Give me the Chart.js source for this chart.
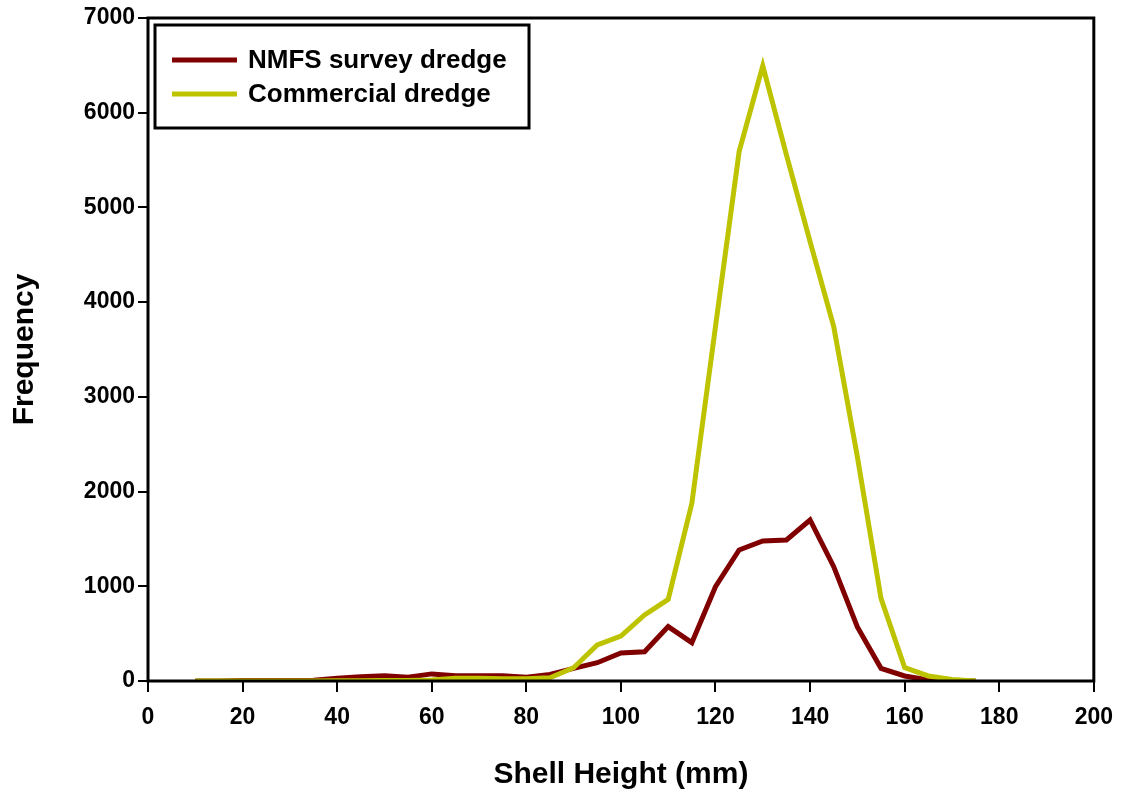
<!DOCTYPE html>
<html>
<head>
<meta charset="utf-8">
<script src="https://cdn.jsdelivr.net/npm/chart.js@4.4.1/dist/chart.umd.min.js"></script>
<style>
  html, body { margin: 0; padding: 0; background: #fff; }
  #wrap { width: 1125px; height: 797px; }
</style>
</head>
<body>
<div id="wrap"><canvas id="grafica"></canvas></div>
<script>
// -------------------------
// Datos
// -------------------------
const shellHeight = [10, 15, 20, 25, 30, 35, 40, 45, 50, 55, 60, 65, 70, 75, 80, 85, 90,
                     95, 100, 105, 110, 115, 120, 125, 130, 135, 140, 145, 150, 155, 160, 165, 170, 175];
const nmfsSurvey = [0, 0, 5, 5, 5, 8, 28, 46, 56, 39, 75, 55, 55, 55, 40, 70, 134,
                    193, 295, 308, 574, 405, 996, 1383, 1478, 1489, 1700, 1207, 570, 134, 53, 10, 0, 0];
const commercial = [0, 0, 0, 0, 0, 0, 2, 3, 5, 5, 10, 30, 30, 25, 25, 35, 140,
                    380, 475, 697, 862, 1876, 3741, 5590, 6494, 5554, 4639, 3741, 2368, 873, 141, 53, 15, 0];
const xTicks = [0, 20, 40, 60, 80, 100, 120, 140, 160, 180, 200];
const yTicks = [0, 1000, 2000, 3000, 4000, 5000, 6000, 7000];

const seriesNames = ["NMFS survey dredge", "Commercial dredge"];
const seriesColors = ["#800000", "#BEC300"];

const FONT = "'Liberation Sans', Arial, sans-serif";

const puntos = vals => shellHeight.map((x, i) => ({ x: x, y: vals[i] }));

// -------------------------
// Marco + leyenda
// -------------------------
const marcoLeyenda = {
    id: 'marcoLeyenda',
    afterDatasetsDraw(chart) {
        const { ctx, chartArea: a } = chart;
        ctx.save();
        ctx.strokeStyle = '#000';
        ctx.lineWidth = 3;
        ctx.strokeRect(a.left, a.top, a.right - a.left, a.bottom - a.top);

        // caja de la leyenda
        ctx.fillStyle = '#fff';
        ctx.fillRect(155, 25, 374, 103);
        ctx.strokeRect(155, 25, 374, 103);

        ctx.font = "bold 26px " + FONT;
        ctx.textBaseline = 'middle';
        ctx.lineWidth = 5;
        const rows = [60, 94];
        chart.data.datasets.forEach(ds => {
            const y = rows[ds.legendRow];
            ctx.strokeStyle = ds.borderColor;
            ctx.beginPath();
            ctx.moveTo(172, y);
            ctx.lineTo(237, y);
            ctx.stroke();
            ctx.fillStyle = '#000';
            ctx.fillText(ds.label, 248, y + 1);
        });
        ctx.restore();
    }
};

new Chart(document.getElementById('grafica'), {
    type: 'line',
    data: {
        datasets: [
            {
                label: seriesNames[0],
                data: puntos(nmfsSurvey),
                borderColor: seriesColors[0],
                borderWidth: 5,
                pointRadius: 0,
                tension: 0,
                order: 1,
                legendRow: 0
            },
            {
                label: seriesNames[1],
                data: puntos(commercial),
                borderColor: seriesColors[1],
                borderWidth: 5,
                pointRadius: 0,
                tension: 0,
                order: 0,
                legendRow: 1
            }
        ]
    },
    plugins: [marcoLeyenda],
    options: {
        responsive: true,
        maintainAspectRatio: false,
        animation: false,
        layout: { padding: { left: 0, top: 18, right: 29, bottom: 0 } },
        plugins: {
            legend: { display: false },
            tooltip: { enabled: false }
        },
        scales: {
            x: {
                type: 'linear',
                min: 0,
                max: 200,
                afterFit: s => { s.height = 116; },
                afterBuildTicks: s => { s.ticks = xTicks.map(v => ({ value: v })); },
                border: { display: false },
                grid: {
                    drawOnChartArea: false,
                    drawTicks: true,
                    tickLength: 11,
                    color: '#000',
                    lineWidth: 2
                },
                ticks: {
                    color: '#000',
                    padding: 12,
                    maxRotation: 0,
                    callback: v => String(v),
                    font: { family: FONT, size: 23, weight: 'bold' }
                },
                title: {
                    display: true,
                    text: 'Shell Height (mm)',
                    color: '#000',
                    padding: { top: 0, bottom: 4 },
                    font: { family: FONT, size: 30, weight: 'bold' }
                }
            },
            y: {
                min: 0,
                max: 7000,
                afterFit: s => { s.width = 148; },
                afterBuildTicks: s => { s.ticks = yTicks.map(v => ({ value: v })); },
                border: { display: false },
                grid: {
                    drawOnChartArea: false,
                    drawTicks: true,
                    tickLength: 10,
                    color: '#000',
                    lineWidth: 2
                },
                ticks: {
                    color: '#000',
                    padding: 3,
                    callback: v => String(v),
                    font: { family: FONT, size: 23, weight: 'bold' }
                },
                title: {
                    display: true,
                    text: 'Frequency',
                    color: '#000',
                    padding: { top: 7, bottom: 0 },
                    font: { family: FONT, size: 30, weight: 'bold' }
                }
            }
        }
    }
});
</script>
</body>
</html>
